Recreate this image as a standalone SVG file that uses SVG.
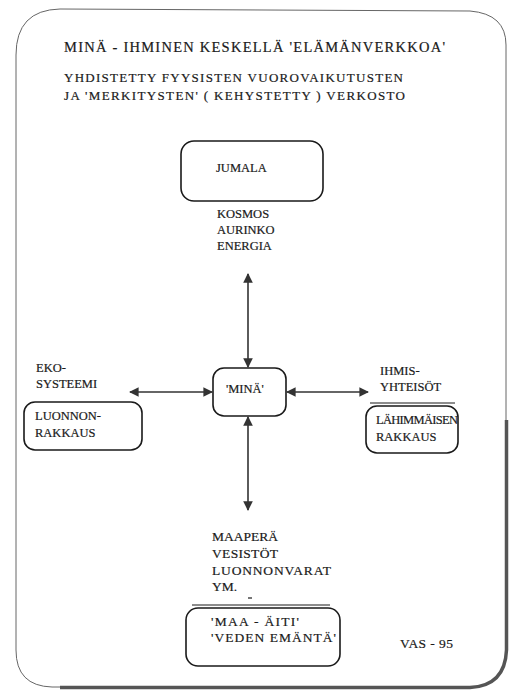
<svg xmlns="http://www.w3.org/2000/svg" width="509" height="693" viewBox="0 0 509 693">
<style>
text{font-family:"Liberation Serif","Times New Roman",serif;fill:#1a1a1a;font-size:12.5px;stroke:#1a1a1a;stroke-width:0.2}
.t{font-size:14.5px}
.s{font-size:13px}
.b{font-size:13.5px}
.box{fill:none;stroke:#1a1a1a;stroke-width:1.6}
.ln{stroke:#333;stroke-width:1.6;fill:none}
</style>
<defs>
<marker id="ah" viewBox="0 0 10 10" refX="9" refY="5" markerWidth="6" markerHeight="6" orient="auto-start-reverse" markerUnits="strokeWidth">
<path d="M0,0 L10,5 L0,10 z" fill="#333"/>
</marker>
</defs>
<rect width="509" height="693" fill="#fff"/>
<g id="frame">
<path d="M16,55 Q16,10 60,9 L470,11 Q506,14 506,45 L506,650 Q506,686 470,687 L52,687 Q16,686 16,650 Z" fill="none" stroke="#666" stroke-width="1"/>
<path d="M60,687.5 L470,687.5 Q505,686 506.5,650 L506.5,420" fill="none" stroke="#555" stroke-width="3.5"/>
</g>
<g id="title">
<text class="t" x="64" y="52" textLength="381">MINÄ - IHMINEN  KESKELLÄ 'ELÄMÄNVERKKOA'</text>
<text class="s" x="64" y="82" textLength="339">YHDISTETTY  FYYSISTEN  VUOROVAIKUTUSTEN</text>
<text class="s" x="64" y="100" textLength="341">JA 'MERKITYSTEN' ( KEHYSTETTY ) VERKOSTO</text>
</g>
<g id="connectors">
<line class="ln" x1="248" y1="274" x2="248" y2="367" marker-start="url(#ah)" marker-end="url(#ah)"/>
<line class="ln" x1="248" y1="417" x2="248" y2="510" marker-start="url(#ah)" marker-end="url(#ah)"/>
<line class="ln" x1="130" y1="392" x2="212" y2="392" marker-start="url(#ah)" marker-end="url(#ah)"/>
<line class="ln" x1="287" y1="392" x2="368" y2="392" marker-start="url(#ah)" marker-end="url(#ah)"/>
</g>
<g id="jumala">
<rect class="box" x="181" y="141" width="142" height="60" rx="13"/>
<text x="216" y="172">JUMALA</text>
<text x="217" y="218">KOSMOS</text>
<text x="217" y="234">AURINKO</text>
<text x="217" y="250">ENERGIA</text>
</g>
<g id="mina">
<rect class="box" x="213" y="368" width="73" height="48" rx="11"/>
<text x="226" y="393">'MINÄ'</text>
</g>
<g id="ekosysteemi">
<text x="36" y="372">EKO-</text>
<text x="36" y="388">SYSTEEMI</text>
<rect class="box" x="24" y="402" width="118" height="48" rx="11"/>
<text x="35" y="420">LUONNON-</text>
<text x="35" y="437">RAKKAUS</text>
</g>
<g id="ihmisyhteisot">
<text x="380" y="375">IHMIS-</text>
<text x="380" y="391">YHTEISÖT</text>
<line x1="370" y1="403" x2="455" y2="403" stroke="#1a1a1a" stroke-width="1"/>
<rect class="box" x="366" y="406" width="92" height="47" rx="11"/>
<text x="376" y="424" textLength="82">LÄHIMMÄISEN</text>
<text x="376" y="441">RAKKAUS</text>
</g>
<g id="maaperä">
<text class="b" x="212" y="541">MAAPERÄ</text>
<text class="b" x="212" y="558" textLength="66">VESISTÖT</text>
<text class="b" x="212" y="575" textLength="119">LUONNONVARAT</text>
<text class="b" x="212" y="591">YM.</text>
<line x1="248" y1="598" x2="252" y2="598" stroke="#1a1a1a" stroke-width="1.2"/>
<line x1="192" y1="605" x2="330" y2="605" stroke="#1a1a1a" stroke-width="1"/>
<rect class="box" x="186" y="608" width="154" height="58" rx="12"/>
<text class="b" x="211" y="626" textLength="88">'MAA - ÄITI'</text>
<text class="b" x="211" y="642" textLength="125">'VEDEN EMÄNTÄ'</text>
</g>
<g id="signature">
<text class="b" x="400" y="648" textLength="53">VAS - 95</text>
</g>
</svg>
